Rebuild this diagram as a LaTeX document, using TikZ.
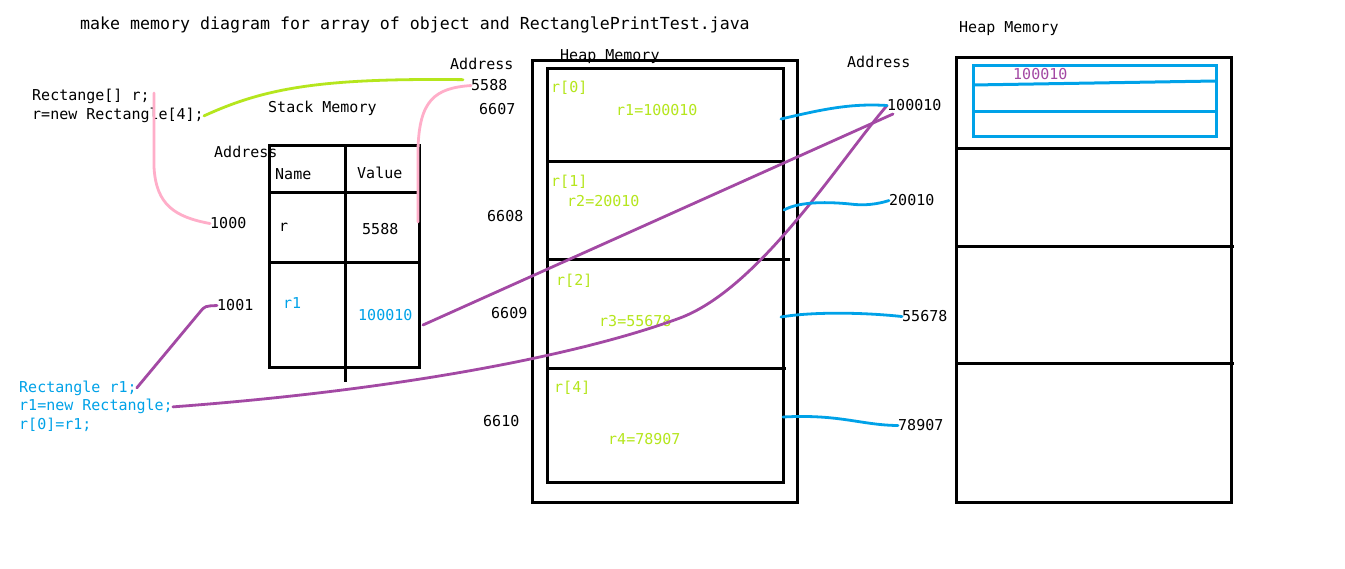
\documentclass[tikz,border=0pt]{standalone}
\usepackage{fontspec}
\setmonofont{DejaVu Sans Mono}
\usetikzlibrary{calc,positioning}
\definecolor{paintlime}{HTML}{B5E61D}
\definecolor{paintpink}{HTML}{FFAEC9}
\definecolor{paintpurple}{HTML}{A349A4}
\definecolor{paintblue}{HTML}{00A2E8}

\begin{document}
\begin{tikzpicture}[x=1pt,y=-1pt,
    code/.style={font=\ttfamily\fontsize{15}{18}\selectfont,anchor=base west,inner sep=0pt},
    box/.style={draw=black,line width=3pt},
    link/.style={line width=2.8pt,line cap=round}]
        \fill[white] (0,0) rectangle (1345,569);
        \useasboundingbox (0,0) rectangle (1345,569);

        \node[code,font=\ttfamily\fontsize{16.6}{20}\selectfont] (title) at (80,30) {make memory diagram for array of object and RectanglePrintTest.java};

        \node[code] (decl) at (32,101) {Rectange[] r;};
        \node[code] (alloc) at (32,120) {r=new Rectangle[4];};
        \node[code,paintblue] (r1decl) at (19,392) {Rectangle r1;};
        \node[code,paintblue] (r1new) at (19,411) {r1=new Rectangle;};
        \node[code,paintblue] (r1set) at (19,430) {r[0]=r1;};

        \node[code] (stacktitle) at (268,113) {Stack Memory};
        \node[code] (stackaddr) at (214,158) {Address};
        \node[code] (colname) at (275,180) {Name};
        \node[code] (colvalue) at (357,179) {Value};
        \node[code] (a1000) at (210,229) {1000};
        \node[code] (namer) at (279,232) {r};
        \node[code] (valr) at (362,235) {5588};
        \node[code] (a1001) at (217,311) {1001};
        \node[code,paintblue] (namer1) at (283,309) {r1};
        \node[code,paintblue] (valr1) at (358,321) {100010};

        \draw[box] (269,146) rectangle (419,368);
        \draw[box] (269,193) -- (419,193);
        \draw[box] (269,263) -- (419,263);
        \draw[box] (345,146) -- (345,382);

        \node[code] (heapaddr) at (450,70) {Address};
        \node[code] (h5588) at (471,91) {5588};
        \node[code] (h6607) at (479,115) {6607};
        \node[code] (h6608) at (487,222) {6608};
        \node[code] (h6609) at (491,319) {6609};
        \node[code] (h6610) at (483,427) {6610};
        \node[code] (heaptitle) at (560,61) {Heap Memory};

        \draw[box] (532,61) rectangle (797,502);
        \draw[box] (547,69) rectangle (783,482);
        \draw[box] (547,162) -- (785,162);
        \draw[box] (547,260) -- (790,260);
        \draw[box] (547,369) -- (786,369);

        \node[code,paintlime] (slot0) at (551,93) {r[0]};
        \node[code,paintlime] (elem0) at (616,116) {r1=100010};
        \node[code,paintlime] (slot1) at (551,187) {r[1]};
        \node[code,paintlime] (elem1) at (567,207) {r2=20010};
        \node[code,paintlime] (slot2) at (556,286) {r[2]};
        \node[code,paintlime] (elem2) at (599,327) {r3=55678};
        \node[code,paintlime] (slot4) at (554,392) {r[4]};
        \node[code,paintlime] (elem4) at (608,445) {r4=78907};

        \node[code] (objaddr) at (847,68) {Address};
        \node[code] (o100010) at (887,111) {100010};
        \node[code] (o20010) at (889,206) {20010};
        \node[code] (o55678) at (902,322) {55678};
        \node[code] (o78907) at (898,431) {78907};

        \node[code] (objtitle) at (959,33) {Heap Memory};
        \draw[box] (956,58) rectangle (1231,502);
        \draw[box] (956,149) -- (1231,149);
        \draw[box] (956,247) -- (1234,247);
        \draw[box] (956,364) -- (1234,364);
        \draw[paintblue,line width=3pt] (973,66) rectangle (1216,137);
        \draw[paintblue,line width=3pt] (973,85) -- (1216,81);
        \draw[paintblue,line width=3pt] (973,112) -- (1216,112);
        \node[code,paintpurple] (objval) at (1013,80) {100010};

        \coordinate (pinktop) at (154,93);
        \coordinate (pinkval) at (418,222);
        \coordinate (limeend) at ($(h5588.north west)+(-8,0)$);
        \coordinate (arrstart) at (423,325);
        \coordinate (arrend) at (893,114);
        \coordinate (out0) at (781,119);
        \coordinate (out1) at (784,210);
        \coordinate (out2) at (781,317);
        \coordinate (out3) at (783,417);

        \draw[link,paintlime] (alloc.east) .. controls (265,88) and (320,78) .. (limeend);
        \draw[link,paintpink] (pinktop) -- (154,167) .. controls (156,205) and (175,217) .. (a1000.west);
        \draw[link,paintpink] (pinkval) -- (418,150) .. controls (419,100) and (435,88) .. (h5588.west);
        \draw[link,paintpurple] (r1decl.east) -- (200,312) .. controls (205,306) .. (a1001.west);
        \draw[link,paintpurple] (arrstart) -- (arrend);
        \draw[link,paintpurple] (r1new.east) .. controls (400,390) and (580,355) .. (680,318) .. controls (760,288) and (840,160) .. (o100010.west);

        \draw[link,paintblue] (out0) .. controls (820,110) and (850,103) .. (o100010.west);
        \draw[link,paintblue] (out1) .. controls (800,201) and (830,202) .. (850,204) .. controls (865,206) and (878,204) .. (o20010.west);
        \draw[link,paintblue] (out2) .. controls (810,312) and (860,312) .. (o55678.west);
        \draw[link,paintblue] (out3) .. controls (840,414) and (860,425) .. (o78907.west);
      \end{tikzpicture}
\end{document}
